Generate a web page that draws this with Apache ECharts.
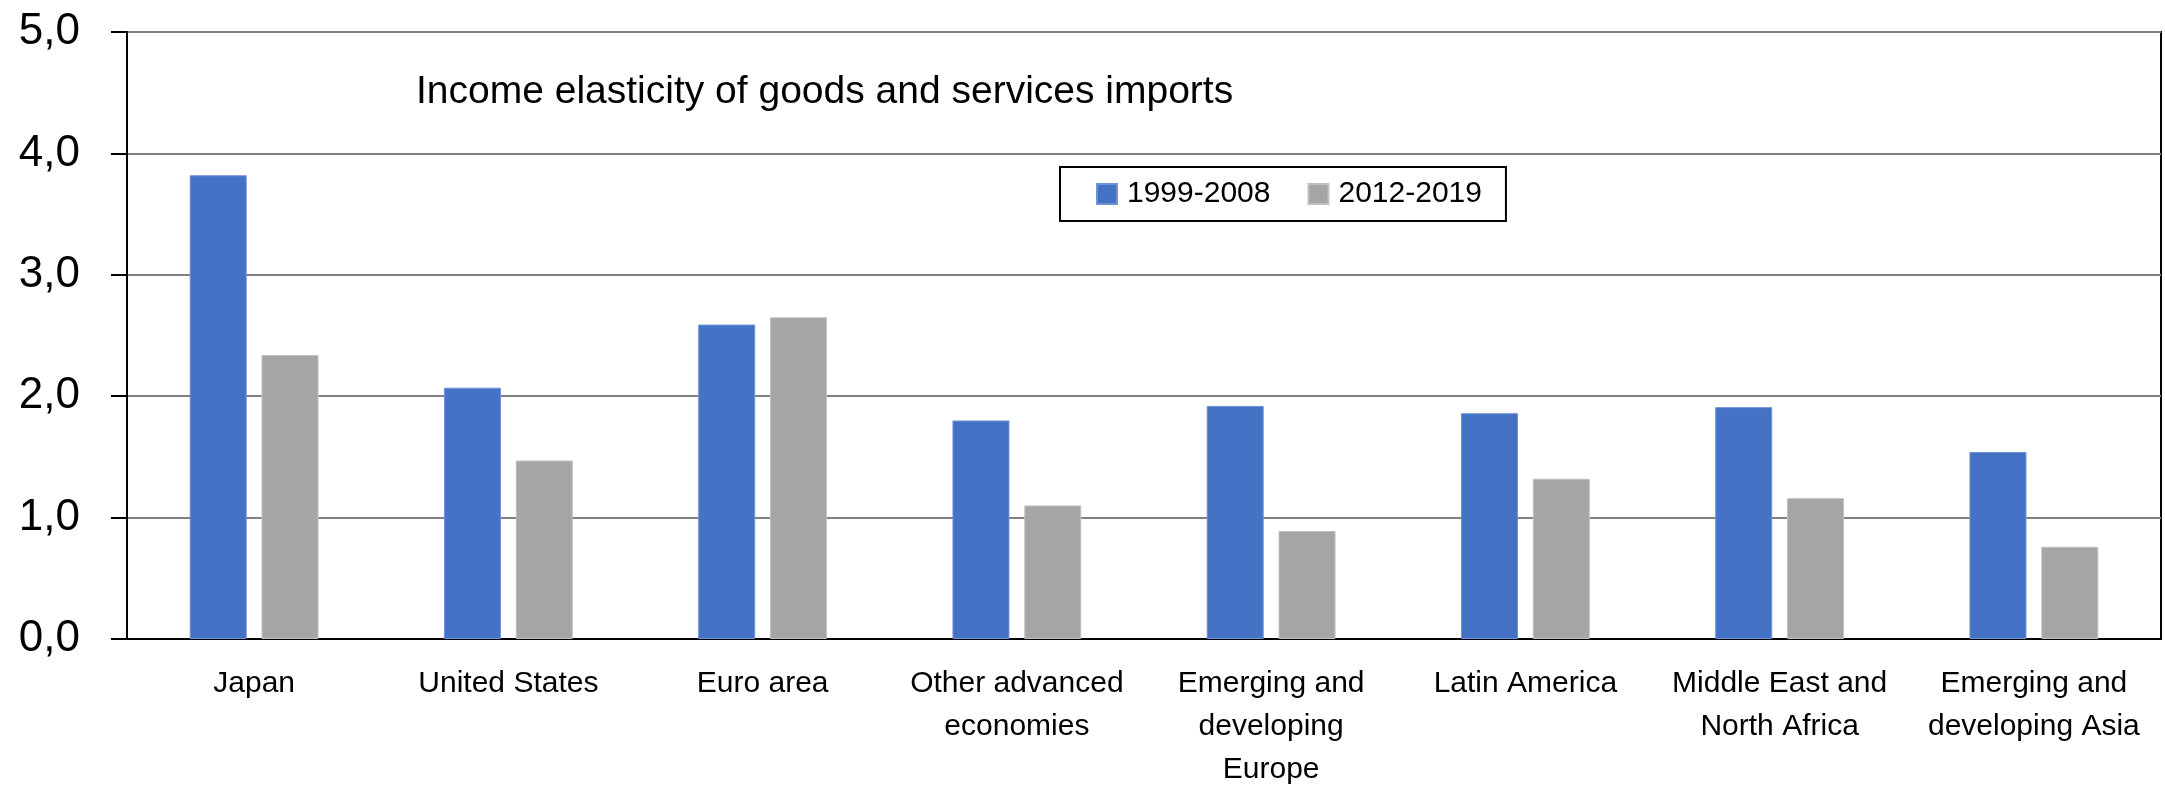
<!DOCTYPE html>
<html>
<head>
<meta charset="utf-8">
<title>Income elasticity of goods and services imports</title>
<script src="https://cdn.jsdelivr.net/npm/echarts@6/dist/echarts.min.js"></script>
<style>
  html, body { margin: 0; padding: 0; background: #ffffff; }
  #chart { width: 2165px; height: 791px; }
</style>
</head>
<body>
<div id="chart"></div>
<script>
// Regions on the category axis (line breaks as printed under each pair of bars)
const categories = [
  'Japan',
  'United States',
  'Euro area',
  'Other advanced\neconomies',
  'Emerging and\ndeveloping\nEurope',
  'Latin America',
  'Middle East and\nNorth Africa',
  'Emerging and\ndeveloping Asia'
];

// Income elasticity of imports, by period
const period1Name = '1999-2008';
const period1Values = [3.82, 2.07, 2.59, 1.80, 1.92, 1.86, 1.91, 1.54];

const period2Name = '2012-2019';
const period2Values = [2.34, 1.47, 2.65, 1.10, 0.89, 1.32, 1.16, 0.76];

// Value axis ticks
const yTicks = [0, 1, 2, 3, 4, 5];

const chartTitle = 'Income elasticity of goods and services imports';

const textFont = '"Liberation Sans", Arial, sans-serif';

const chart = echarts.init(document.getElementById('chart'), null, { renderer: 'canvas' });

chart.setOption({
  animation: false,
  backgroundColor: '#ffffff',
  title: {
    text: chartTitle,
    left: 416,
    top: 73,
    padding: 0,
    textStyle: {
      fontFamily: textFont,
      fontSize: 39,
      fontWeight: 'normal',
      color: '#000000'
    }
  },
  legend: {
    left: 1060,
    top: 167,
    orient: 'horizontal',
    padding: [12, 24, 12, 36],
    itemGap: 37,
    itemWidth: 20,
    itemHeight: 20,
    borderColor: '#000000',
    borderWidth: 2,
    backgroundColor: '#ffffff',
    icon: 'rect',
    textStyle: {
      fontFamily: textFont,
      fontSize: 30,
      color: '#000000',
      padding: [0, 0, 0, 5]
    },
    data: [period1Name, period2Name]
  },
  grid: {
    left: 127,
    right: 4,
    top: 32,
    bottom: 151,
    show: true,
    borderColor: '#000000',
    borderWidth: 2,
    backgroundColor: 'transparent'
  },
  xAxis: {
    type: 'category',
    data: categories,
    boundaryGap: true,
    axisLine: { show: true, lineStyle: { color: '#000000', width: 2 } },
    axisTick: { show: false },
    axisLabel: {
      interval: 0,
      margin: 23,
      fontFamily: textFont,
      fontSize: 30,
      lineHeight: 43,
      color: '#000000',
      align: 'center'
    }
  },
  yAxis: {
    type: 'value',
    min: yTicks[0],
    max: yTicks[yTicks.length - 1],
    interval: 1,
    axisLine: { show: true, lineStyle: { color: '#000000', width: 2 } },
    axisTick: { show: true, length: 16, lineStyle: { color: '#000000', width: 2 } },
    splitLine: { show: true, lineStyle: { color: '#808080', width: 2 } },
    axisLabel: {
      margin: 47,
      fontFamily: textFont,
      fontSize: 44,
      color: '#000000',
      formatter: function (v) { return v.toFixed(1).replace('.', ','); }
    }
  },
  series: [
    {
      name: period1Name,
      type: 'bar',
      data: period1Values,
      barWidth: 57,
      barGap: '26%',
      itemStyle: { color: '#4472C4', borderColor: '#6e92d4', borderWidth: 1 }
    },
    {
      name: period2Name,
      type: 'bar',
      data: period2Values,
      barWidth: 57,
      barGap: '26%',
      itemStyle: { color: '#A5A5A5', borderColor: '#c0c0c0', borderWidth: 1 }
    }
  ]
});
</script>
</body>
</html>
